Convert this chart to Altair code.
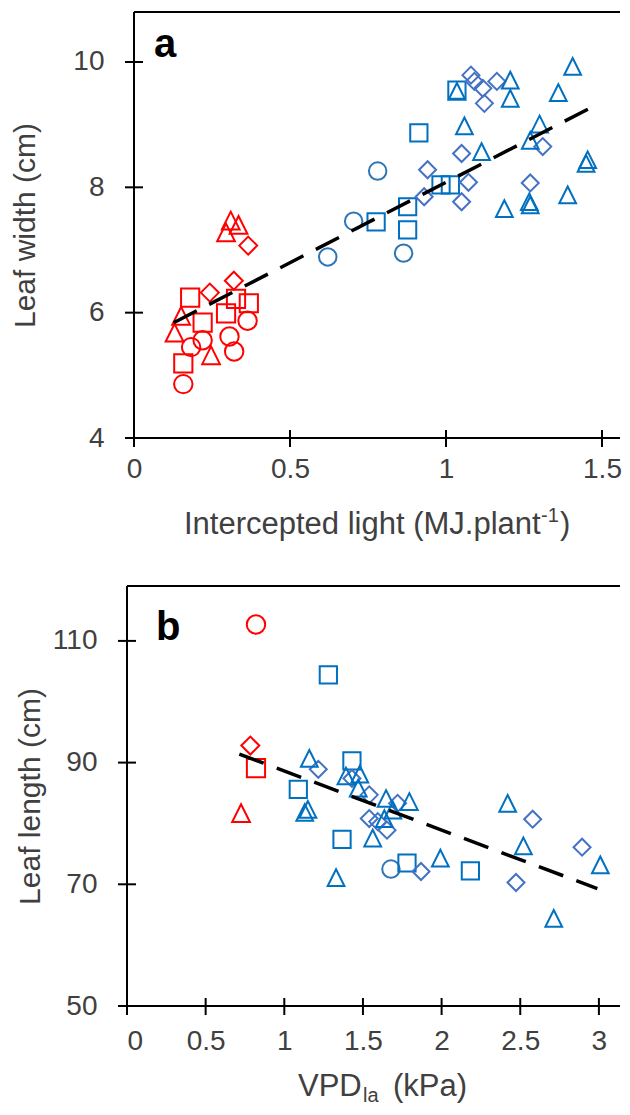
import altair as alt
import pandas as pd

FONT = "Liberation Sans"
LABEL_COLOR = "#404040"

GROUPS = ["red-circle", "red-square", "red-diamond", "red-triangle",
          "blue-circle", "blue-square", "blue-diamond", "blue-triangle"]
TRI = "M0,-1L1,1L-1,1Z"
SHAPES = ["circle", "square", "diamond", TRI, "circle", "square", "diamond", TRI]
COLORS = ["#FF0000", "#FF0000", "#FF0000", "#FF0000",
          "#2E75B6", "#0070C0", "#4472C4", "#0070C0"]
SIZES = [340, 280, 330, 420, 340, 280, 330, 420]

# ---------------- panel a : leaf width vs intercepted light ----------------
A_X = [0.158, 0.183, 0.22, 0.306, 0.321, 0.364,
       0.18, 0.22, 0.158, 0.295, 0.327, 0.368,
       0.243, 0.32, 0.366,
       0.151, 0.13, 0.247, 0.31, 0.335, 0.295,
       0.781, 0.704, 0.621, 0.864,
       0.776, 0.877, 0.877, 0.913, 0.984, 1.014, 1.035,
       0.941, 0.93, 1.05, 1.072, 1.05, 1.08, 1.091, 1.118, 1.163, 1.123, 1.31, 1.27,
       1.035, 1.206, 1.206, 1.406, 1.36, 1.059, 1.114, 1.30, 1.27, 1.454, 1.449, 1.187, 1.267, 1.27, 1.39]
A_Y = [4.86, 5.45, 5.56, 5.62, 5.38, 5.87,
       6.24, 5.84, 5.19, 5.99, 6.22, 6.15,
       6.32, 6.51, 7.07,
       5.95, 5.68, 5.32, 7.47, 7.40, 7.28,
       8.26, 7.46, 6.89, 6.95,
       7.45, 7.69, 7.32, 8.87, 8.04, 8.04, 9.55,
       8.28, 7.85, 8.54, 8.08, 7.77, 9.79, 9.69, 9.58, 9.69, 9.34, 8.65, 8.07,
       9.53, 9.71, 9.42, 9.93, 9.51, 8.98, 8.57, 9.01, 8.75, 8.44, 8.38, 7.66, 7.77, 7.72, 7.88]
A_G = (["red-circle"] * 6 + ["red-square"] * 6 + ["red-diamond"] * 3 + ["red-triangle"] * 6
       + ["blue-circle"] * 4 + ["blue-square"] * 7 + ["blue-diamond"] * 12 + ["blue-triangle"] * 15)
A_FIT_X = [0.127, 1.46]
A_FIT_Y = [5.84, 9.26]
A_XTICKS = [0, 0.5, 1, 1.5]
A_YTICKS = [4, 6, 8, 10]

# ---------------- panel b : leaf length vs VPD ----------------
B_X = [0.82, 0.82, 0.784, 0.725,
       1.678,
       1.28, 1.089, 1.43, 1.367, 1.78, 2.183,
       1.216, 1.43, 1.54, 1.54, 1.594, 1.653, 1.72, 1.869, 2.579, 2.473, 2.893,
       1.159, 1.13, 1.15, 1.329, 1.392, 1.48, 1.47, 1.562, 1.647, 1.795, 1.69, 1.636,
       1.992, 2.42, 2.52, 2.713, 3.009]
B_Y = [112.7, 89.1, 92.8, 81.7,
       72.5,
       104.4, 85.6, 90.3, 77.4, 73.5, 72.2,
       88.9, 87.4, 84.7, 80.8, 80.3, 78.9, 83.3, 72.1, 80.7, 70.3, 76.1,
       90.7, 81.8, 82.3, 71.1, 87.8, 88.1, 85.8, 77.6, 84.1, 83.6, 82.2, 80.8,
       74.3, 83.3, 76.3, 64.4, 73.2]
B_G = (["red-circle", "red-square", "red-diamond", "red-triangle", "blue-circle"]
       + ["blue-square"] * 6 + ["blue-diamond"] * 11 + ["blue-triangle"] * 17)
B_FIT_X = [0.714, 2.99]
B_FIT_Y = [91.4, 69.3]
B_XTICKS = [0, 0.5, 1, 1.5, 2, 2.5, 3]
B_YTICKS = [50, 70, 90, 110]


def panel(xs, ys, gs, fx, fy, xdom, ydom, W, H, x0, xticks, yticks, ytitle,
          letter, letter_xy, xlab_pad, ylab_pad, ytitle_pad, title_parts):
    """x0 = pixel offset of the y axis line from the left of the plot area."""
    xs_ = alt.Scale(domain=xdom, nice=False, zero=False)
    ys_ = alt.Scale(domain=ydom, nice=False, zero=False)
    df = pd.DataFrame({"x": xs, "y": ys, "g": gs})
    axis_common = dict(domain=False, ticks=False, grid=False, format="~g",
                       labelFont=FONT, labelFontSize=28, labelColor=LABEL_COLOR)
    pts = alt.Chart(df).mark_point(filled=False, strokeWidth=2, opacity=1).encode(
        x=alt.X("x:Q", scale=xs_, axis=alt.Axis(values=xticks, title=None,
                                                labelPadding=xlab_pad, **axis_common)),
        y=alt.Y("y:Q", scale=ys_, axis=alt.Axis(values=yticks, title=ytitle,
                                                labelPadding=ylab_pad, titlePadding=ytitle_pad,
                                                titleFont=FONT, titleFontSize=30,
                                                titleFontWeight="normal", titleColor=LABEL_COLOR,
                                                **axis_common)),
        shape=alt.Shape("g:N", scale=alt.Scale(domain=GROUPS, range=SHAPES), legend=None),
        color=alt.Color("g:N", scale=alt.Scale(domain=GROUPS, range=COLORS), legend=None),
        size=alt.Size("g:N", scale=alt.Scale(domain=GROUPS, range=SIZES), legend=None),
    )
    fit = alt.Chart(pd.DataFrame({"x": fx, "y": fy})).mark_line(
        color="black", strokeWidth=3.5, strokeDash=[26, 14]).encode(
        x=alt.X("x:Q", scale=xs_), y=alt.Y("y:Q", scale=ys_))
    xt = alt.Chart(pd.DataFrame({"x": xticks})).mark_rule(color="black", strokeWidth=2).encode(
        x=alt.X("x:Q", scale=xs_), y=alt.value(H - 8), y2=alt.value(H + 9))
    yt = alt.Chart(pd.DataFrame({"y": yticks})).mark_rule(color="black", strokeWidth=2).encode(
        y=alt.Y("y:Q", scale=ys_), x=alt.value(x0 - 9), x2=alt.value(x0 + 9))
    one = pd.DataFrame({"k": [0]})
    frame = [
        alt.Chart(one).mark_rule(color="black", strokeWidth=2).encode(
            x=alt.value(x0), x2=alt.value(W), y=alt.value(0)),
        alt.Chart(one).mark_rule(color="black", strokeWidth=2).encode(
            x=alt.value(x0), x2=alt.value(W), y=alt.value(H)),
        alt.Chart(one).mark_rule(color="black", strokeWidth=2).encode(
            x=alt.value(x0), y=alt.value(0), y2=alt.value(H)),
    ]
    lab = alt.Chart(one).mark_text(text=letter, font=FONT, fontSize=40, fontWeight="bold",
                                   align="left", baseline="alphabetic", color="black").encode(
        x=alt.value(letter_xy[0]), y=alt.value(letter_xy[1]))
    layers = [pts, fit, xt, yt] + frame + [lab]
    for txt, px, py, fs in title_parts:
        layers.append(alt.Chart(one).mark_text(text=txt, font=FONT, fontSize=fs, align="left",
                                               baseline="alphabetic", color=LABEL_COLOR).encode(
            x=alt.value(px), y=alt.value(py)))
    return alt.layer(*layers).properties(width=W, height=H)


W = 493
HA = 426
HB = 420
A_OFF = 7  # panel a's axis sits 7px right of panel b's

pa = panel(A_X, A_Y, A_G, A_FIT_X, A_FIT_Y,
           [-A_OFF / 312.0, (W - A_OFF) / 312.0], [4, 4 + HA / 62.67], W, HA, A_OFF,
           A_XTICKS, A_YTICKS, "Leaf width (cm)", "a", (27, 45), 17, 23, 32,
           [("Intercepted light (MJ.plant", 57, 522, 31),
            ("-1", 414, 510, 20),
            (")", 433, 522, 31)])
pb = panel(B_X, B_Y, B_G, B_FIT_X, B_FIT_Y, [0, W / 157.3], [50, 50 + HB / 6.085], W, HB, 0,
           B_XTICKS, B_YTICKS, "Leaf length (cm)", "b", (29, 54), 21, 30, 7,
           [("VPD", 171, 510, 31),
            ("la", 236, 516, 20),
            ("(kPa)", 266, 510, 31)])

chart = alt.vconcat(pa, pb, spacing=45).properties(
    padding={"left": 2, "top": 3, "right": 0, "bottom": 0}
).configure_view(stroke=None)

chart.save("out.html", embed_options={"renderer": "svg", "actions": False})
